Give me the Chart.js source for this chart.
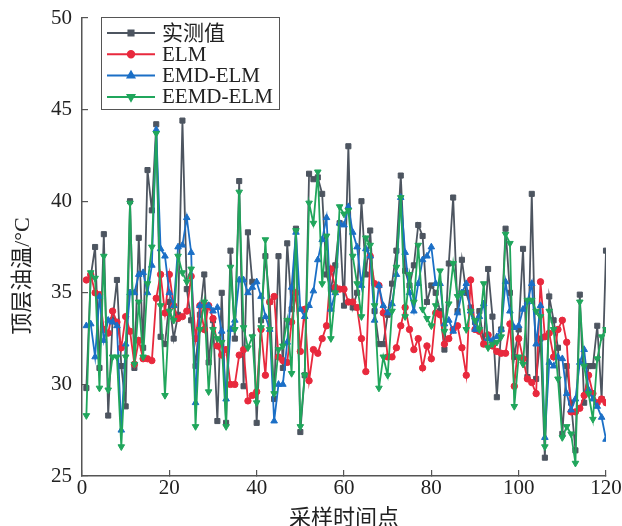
<!DOCTYPE html>
<html>
<head>
<meta charset="utf-8">
<title>顶层油温预测</title>
<script src="https://cdn.jsdelivr.net/npm/chart.js@4.4.1/dist/chart.umd.min.js"></script>
<style>
    html, body { margin: 0; padding: 0; background: #ffffff; }
    #chart { display: block; }
</style>
</head>
<body>
<canvas id="chart" width="622" height="526"></canvas>
<script>
"use strict"


// x axis ticks and labels
const xTicks = [0, 20, 40, 60, 80, 100, 120];
const yTicks = [25, 30, 35, 40, 45, 50];

const seriesNames = ['实测值', 'ELM', 'EMD-ELM', 'EEMD-ELM'];

// 实测值
const measured =
[
    29.8, 35.9, 37.5, 30.9, 38.2, 28.3, 33.5, 35.7, 31.0, 28.8,
    40.0, 30.9, 38.0, 32.0, 41.7, 39.5, 44.2, 32.6, 32.2, 34.5,
    32.5, 33.8, 44.4, 35.2, 33.5, 31.0, 33.8, 36.0, 31.2, 33.5,
    28.0, 35.0, 27.9, 37.3, 32.5, 41.1, 29.9, 38.3, 35.6, 27.9,
    33.5, 37.0, 34.5, 29.2, 37.0, 30.9, 37.7, 34.1, 38.5, 27.4,
    30.5, 41.5, 41.2, 41.3, 40.4, 36.0, 35.2, 36.5, 38.8, 34.3,
    43.0, 34.2, 35.0, 40.0, 36.0, 38.4, 34.0, 32.2, 32.2, 33.8,
    35.5, 37.3, 41.4, 36.2, 35.4, 36.5, 38.7, 38.1, 34.5, 35.4,
    35.0, 34.0, 31.9, 36.6, 40.2, 34.0, 36.8, 35.0, 34.2, 33.4,
    34.0, 32.2, 36.3, 33.7, 29.3, 33.0, 38.5, 35.0, 31.5, 33.0,
    37.4, 30.4, 40.4, 30.3, 32.5, 26.0, 34.8, 33.5, 32.0, 27.3,
    31.0, 29.0, 26.4, 34.9, 29.0, 31.0, 31.0, 33.2, 29.2, 37.3
];

// ELM
const elm =
[
    35.7, 36.0, 35.0, 34.9, 33.0, 32.8, 34.0, 33.4, 32.0, 33.7,
    32.9, 31.1, 32.4, 31.4, 31.4, 31.3, 34.7, 36.0, 33.9, 36.0,
    34.3, 33.6, 33.7, 34.0, 35.9, 32.5, 34.3, 33.0, 34.3, 33.6,
    32.1, 31.6, 31.9, 30.0, 30.0, 31.6, 31.9, 29.1, 29.4, 29.6,
    33.0, 30.5, 34.5, 34.8, 31.5, 31.3, 31.2, 33.4, 35.0, 31.8,
    34.1, 30.2, 31.9, 31.7, 32.5, 33.2, 36.3, 35.3, 35.2, 35.2,
    34.5, 34.5, 34.2, 32.5, 30.7, 37.0, 35.5, 35.4, 33.9, 31.5,
    31.5, 32.0, 33.2, 34.2, 33.0, 31.9, 32.5, 30.9, 32.1, 31.4,
    33.9, 33.8, 32.2, 32.5, 33.0, 33.2, 32.0, 30.5, 35.7, 33.0,
    32.9, 32.2, 32.7, 32.1, 31.8, 31.7, 31.7, 33.3, 29.9, 32.5,
    31.4, 30.3, 30.1, 29.5, 35.6, 32.6, 32.8, 31.5, 33.0, 33.5,
    32.3, 28.5, 28.5, 28.7, 29.4, 30.5, 29.5, 29.0, 29.2, 29.0
];

// EMD-ELM
const emdElm =
[
    33.2, 33.3, 31.5, 34.8, 32.4, 33.5, 33.4, 33.2, 27.5, 32.2,
    35.0, 35.0, 36.0, 36.1, 35.0, 36.5, 43.9, 37.4, 37.0, 35.0,
    34.3, 37.5, 37.6, 39.1, 37.2, 29.0, 34.3, 34.3, 34.3, 34.0,
    34.2, 32.9, 29.2, 33.0, 33.5, 35.7, 35.7, 35.0, 35.3, 35.6,
    34.8, 33.7, 33.0, 28.0, 30.0, 30.0, 32.3, 35.3, 38.3, 34.1,
    33.7, 34.3, 35.1, 36.8, 37.9, 39.1, 34.1, 35.0, 38.8, 38.7,
    39.7, 38.3, 37.5, 35.4, 37.4, 37.0, 33.5, 35.4, 34.3, 33.9,
    34.4, 36.0, 40.2, 37.2, 35.0, 34.0, 35.5, 36.8, 37.0, 37.5,
    35.5, 35.5, 33.3, 33.5, 32.9, 33.9, 35.0, 35.5, 34.0, 33.0,
    33.7, 34.4, 32.5, 32.4, 32.6, 33.0, 35.6, 34.0, 33.1, 33.2,
    34.1, 34.5, 35.5, 32.2, 34.3, 27.1, 31.2, 31.0, 31.5, 31.4,
    29.5, 28.6, 29.2, 31.2, 31.9, 29.7, 29.2, 28.8, 28.2, 27.0
];

// EEMD-ELM
const eemdElm =
[
    28.3, 36.1, 35.8, 29.8, 37.0, 29.7, 31.5, 31.5, 26.6, 31.5,
    39.9, 31.1, 34.5, 31.5, 35.5, 37.5, 43.7, 34.3, 29.4, 34.0,
    33.5, 37.0, 36.1, 35.6, 36.3, 27.7, 33.0, 34.5, 29.6, 33.0,
    32.5, 32.3, 27.7, 36.4, 33.0, 40.5, 33.1, 32.0, 32.6, 29.0,
    33.1, 37.9, 33.0, 29.5, 31.9, 32.1, 33.5, 30.6, 38.4, 27.7,
    30.5, 39.9, 38.8, 41.6, 35.5, 38.1, 32.5, 35.0, 39.7, 39.3,
    39.5, 37.0, 35.5, 33.7, 38.0, 37.6, 34.3, 29.8, 31.5, 30.5,
    34.0, 36.4, 40.2, 33.7, 36.0, 34.5, 37.6, 34.1, 33.6, 33.2,
    34.3, 36.2, 32.9, 34.4, 36.6, 34.8, 35.0, 33.0, 34.0, 33.5,
    33.0, 35.5, 32.0, 32.2, 32.3, 32.6, 38.2, 37.7, 28.8, 31.5,
    31.1, 34.6, 34.6, 34.0, 33.7, 26.6, 34.0, 33.0, 30.3, 27.1,
    27.7, 27.3, 25.7, 34.5, 31.0, 29.5, 28.1, 31.4, 32.6, 33.0
];


const app =
{
    canvasContext: document.getElementById('chart').getContext('2d'),
    serif: "'Liberation Serif', 'Noto Sans CJK SC', serif",
    axisColor: '#555555',
    textColor: '#222222',
    colors: ['#4d5560', '#e8293d', '#1b6fc6', '#20a65c'],
    pointStyles: ['rect', 'circle', 'triangle', 'triangle'],
    pointRotations: [0, 0, 0, 180],
    pointRadii: [3.6, 3.2, 3.8, 3.8]
};


window.onload = () =>
{
    line();
}


function toPoints(values)
{
    return values.map((v, i) => ({ x: i + 1, y: v }));
}


// legend box inside the plot, with a frame like the original figure
const boxedLegend =
{
    id: 'boxedLegend',
    afterDraw(chart)
    {
        const ctx = chart.ctx;
        const left = 101, top = 17, width = 178, height = 92;

        ctx.save();
        ctx.fillStyle = '#ffffff';
        ctx.fillRect(left, top, width, height);
        ctx.strokeStyle = app.axisColor;
        ctx.lineWidth = 1;
        ctx.strokeRect(left + 0.5, top + 0.5, width, height);

        ctx.font = '21px ' + app.serif;
        ctx.textBaseline = 'middle';
        ctx.textAlign = 'left';

        seriesNames.forEach((name, i) =>
        {
            const y = 33 + i * 21.3;
            ctx.strokeStyle = app.colors[i];
            ctx.lineWidth = 2;
            ctx.beginPath();
            ctx.moveTo(107, y);
            ctx.lineTo(155, y);
            ctx.stroke();

            ctx.fillStyle = app.colors[i];
            Chart.helpers.drawPoint(ctx,
            {
                pointStyle: app.pointStyles[i],
                radius: app.pointRadii[i],
                rotation: app.pointRotations[i],
                borderWidth: 1
            }, 131, y);

            ctx.fillStyle = app.textColor;
            ctx.fillText(name, 162, y + 1);
        });

        // y axis title
        ctx.translate(23, 276);
        ctx.rotate(-Math.PI / 2);
        ctx.textAlign = 'center';
        ctx.font = '22px ' + app.serif;
        ctx.fillText('顶层油温/°C', 0, 0);
        ctx.restore();
    }
};


function line()
{
    const allSeries = [measured, elm, emdElm, eemdElm];

    const data =
    {
        datasets: allSeries.map((values, i) => (
        {
            label: seriesNames[i],
            data: toPoints(values),
            borderColor: app.colors[i],
            backgroundColor: app.colors[i],
            borderWidth: 1.8,
            pointStyle: app.pointStyles[i],
            pointRotation: app.pointRotations[i],
            pointRadius: app.pointRadii[i],
            pointBorderWidth: 1,
            pointHoverRadius: app.pointRadii[i],
            tension: 0,
            order: 4 - i
        }))
    };

    const config =
    {
        type: 'line',
        data: data,
        plugins: [boxedLegend],
        options:
        {
            responsive: false,
            animation: false,
            layout: { padding: { top: 18, right: 16, left: 0, bottom: 0 } },
            plugins:
            {
                legend: { display: false },
                tooltip: { enabled: false }
            },
            scales:
            {
                x:
                {
                    type: 'linear',
                    min: xTicks[0],
                    max: xTicks[xTicks.length - 1],
                    afterBuildTicks: (scale) => { scale.ticks = xTicks.map(v => ({ value: v })); },
                    afterFit: (scale) =>
                    {
                        scale.height = 50;
                        scale.paddingLeft = 0;
                        scale.paddingRight = 0;
                    },
                    border: { color: app.axisColor, width: 1.5 },
                    grid: { drawOnChartArea: false, tickLength: -6, color: app.axisColor, lineWidth: 1.2 },
                    ticks:
                    {
                        padding: 6,
                        maxRotation: 0,
                        color: app.textColor,
                        font: { family: app.serif, size: 21 }
                    },
                    title:
                    {
                        display: true,
                        text: '采样时间点',
                        color: app.textColor,
                        font: { family: app.serif, size: 22 },
                        padding: { top: 0, bottom: -6 }
                    }
                },
                y:
                {
                    min: yTicks[0],
                    max: yTicks[yTicks.length - 1],
                    afterBuildTicks: (scale) => { scale.ticks = yTicks.map(v => ({ value: v })); },
                    afterFit: (scale) =>
                    {
                        scale.width = 82;
                        scale.paddingTop = 0;
                        scale.paddingBottom = 0;
                    },
                    border: { color: app.axisColor, width: 1.5 },
                    grid: { drawOnChartArea: false, tickLength: -6, color: app.axisColor, lineWidth: 1.2 },
                    ticks:
                    {
                        padding: 16,
                        color: app.textColor,
                        font: { family: app.serif, size: 21 }
                    }
                }
            }
        }
    };

    const myChart = new Chart(app.canvasContext, config);
}
</script>
</body>
</html>
